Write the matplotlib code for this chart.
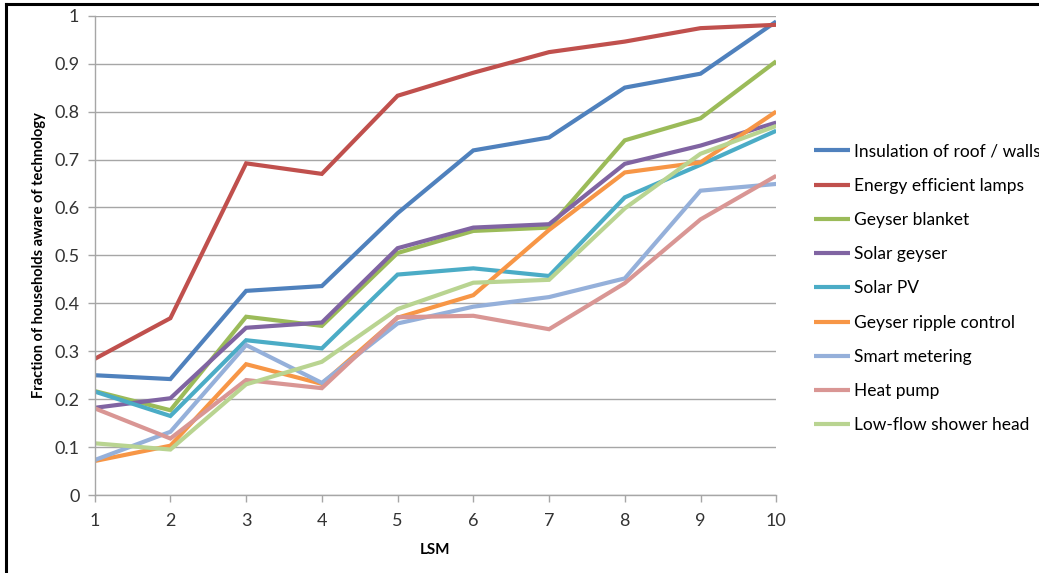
import matplotlib
matplotlib.use("Agg")
import matplotlib.pyplot as plt
from matplotlib.lines import Line2D

# ── data ──────────────────────────────────────────────────────────────────────
lsm = [1, 2, 3, 4, 5, 6, 7, 8, 9, 10]

insulation   = [0.250, 0.242, 0.426, 0.436, 0.588, 0.719, 0.746, 0.850, 0.879, 0.988]
lamps        = [0.284, 0.369, 0.692, 0.670, 0.833, 0.881, 0.924, 0.946, 0.974, 0.981]
blanket      = [0.217, 0.177, 0.372, 0.353, 0.505, 0.551, 0.558, 0.740, 0.786, 0.905]
solar_geyser = [0.182, 0.202, 0.349, 0.360, 0.515, 0.558, 0.565, 0.691, 0.729, 0.777]
solar_pv     = [0.216, 0.165, 0.323, 0.306, 0.460, 0.473, 0.457, 0.621, 0.689, 0.760]
ripple       = [0.071, 0.103, 0.273, 0.232, 0.370, 0.417, 0.553, 0.673, 0.694, 0.800]
smart_meter  = [0.073, 0.132, 0.313, 0.234, 0.358, 0.393, 0.413, 0.452, 0.635, 0.649]
heat_pump    = [0.181, 0.118, 0.240, 0.223, 0.371, 0.374, 0.346, 0.442, 0.575, 0.666]
low_flow     = [0.108, 0.095, 0.231, 0.278, 0.388, 0.443, 0.449, 0.598, 0.712, 0.770]

labels = [
    "Insulation of roof / walls",
    "Energy efficient lamps",
    "Geyser blanket",
    "Solar geyser",
    "Solar PV",
    "Geyser ripple control",
    "Smart metering",
    "Heat pump",
    "Low-flow shower head",
]
series = [insulation, lamps, blanket, solar_geyser, solar_pv,
          ripple, smart_meter, heat_pump, low_flow]
colors = ["#4F81BD", "#C0504D", "#9BBB59", "#8064A2", "#4BACC6",
          "#F79646", "#95B0DA", "#D99694", "#B9D491"]

# ── style ─────────────────────────────────────────────────────────────────────
plt.rcParams.update({
    "font.family": ["Lato", "DejaVu Sans"],
    "font.size":   12,
})
GRID = "#A6A6A6"

fig = plt.figure(figsize=(10.39, 5.73), dpi=100)
ax = fig.add_axes([0.0911, 0.136, 0.656, 0.8366])

for vals, lab, col in zip(series, labels, colors):
    ax.plot(lsm, vals, color=col, linewidth=3.0, label=lab,
            solid_joinstyle="miter", solid_capstyle="butt")

ax.set_xlim(1, 10)
ax.set_ylim(0, 1)
ax.set_xticks(lsm)
ax.set_yticks([i / 10 for i in range(11)])
ax.set_yticklabels(["0", "0.1", "0.2", "0.3", "0.4", "0.5",
                    "0.6", "0.7", "0.8", "0.9", "1"])
ax.yaxis.grid(True, color=GRID, linewidth=1.0)
ax.set_axisbelow(True)

for side in ("top", "right"):
    ax.spines[side].set_visible(False)
for side in ("left", "bottom"):
    ax.spines[side].set_color(GRID)
    ax.spines[side].set_linewidth(1.0)
ax.tick_params(axis="both", colors=GRID, length=5, width=1.0,
               labelcolor="#333333", labelsize=13)
ax.tick_params(axis="x", pad=8)
ax.tick_params(axis="y", pad=6)

ax.set_xlabel("LSM", fontweight="bold", fontsize=11, labelpad=10)
ax.set_ylabel("Fraction of households aware of technology",
              fontweight="bold", fontsize=10.5, labelpad=6)

ax.legend(loc="upper left", bbox_to_anchor=(1.045, 0.748), frameon=False,
          handlelength=2.1, handletextpad=0.2, labelspacing=1.05,
          fontsize=12.5, borderaxespad=0)

# page frame on the left and top edges
fig.add_artist(Line2D([0.0058, 0.0058], [0, 0.993], color="black",
                      linewidth=2.2, transform=fig.transFigure))
fig.add_artist(Line2D([0.0058, 1], [0.993, 0.993], color="black",
                      linewidth=2.2, transform=fig.transFigure))

fig.savefig("out.png", dpi=100)
plt.close(fig)
